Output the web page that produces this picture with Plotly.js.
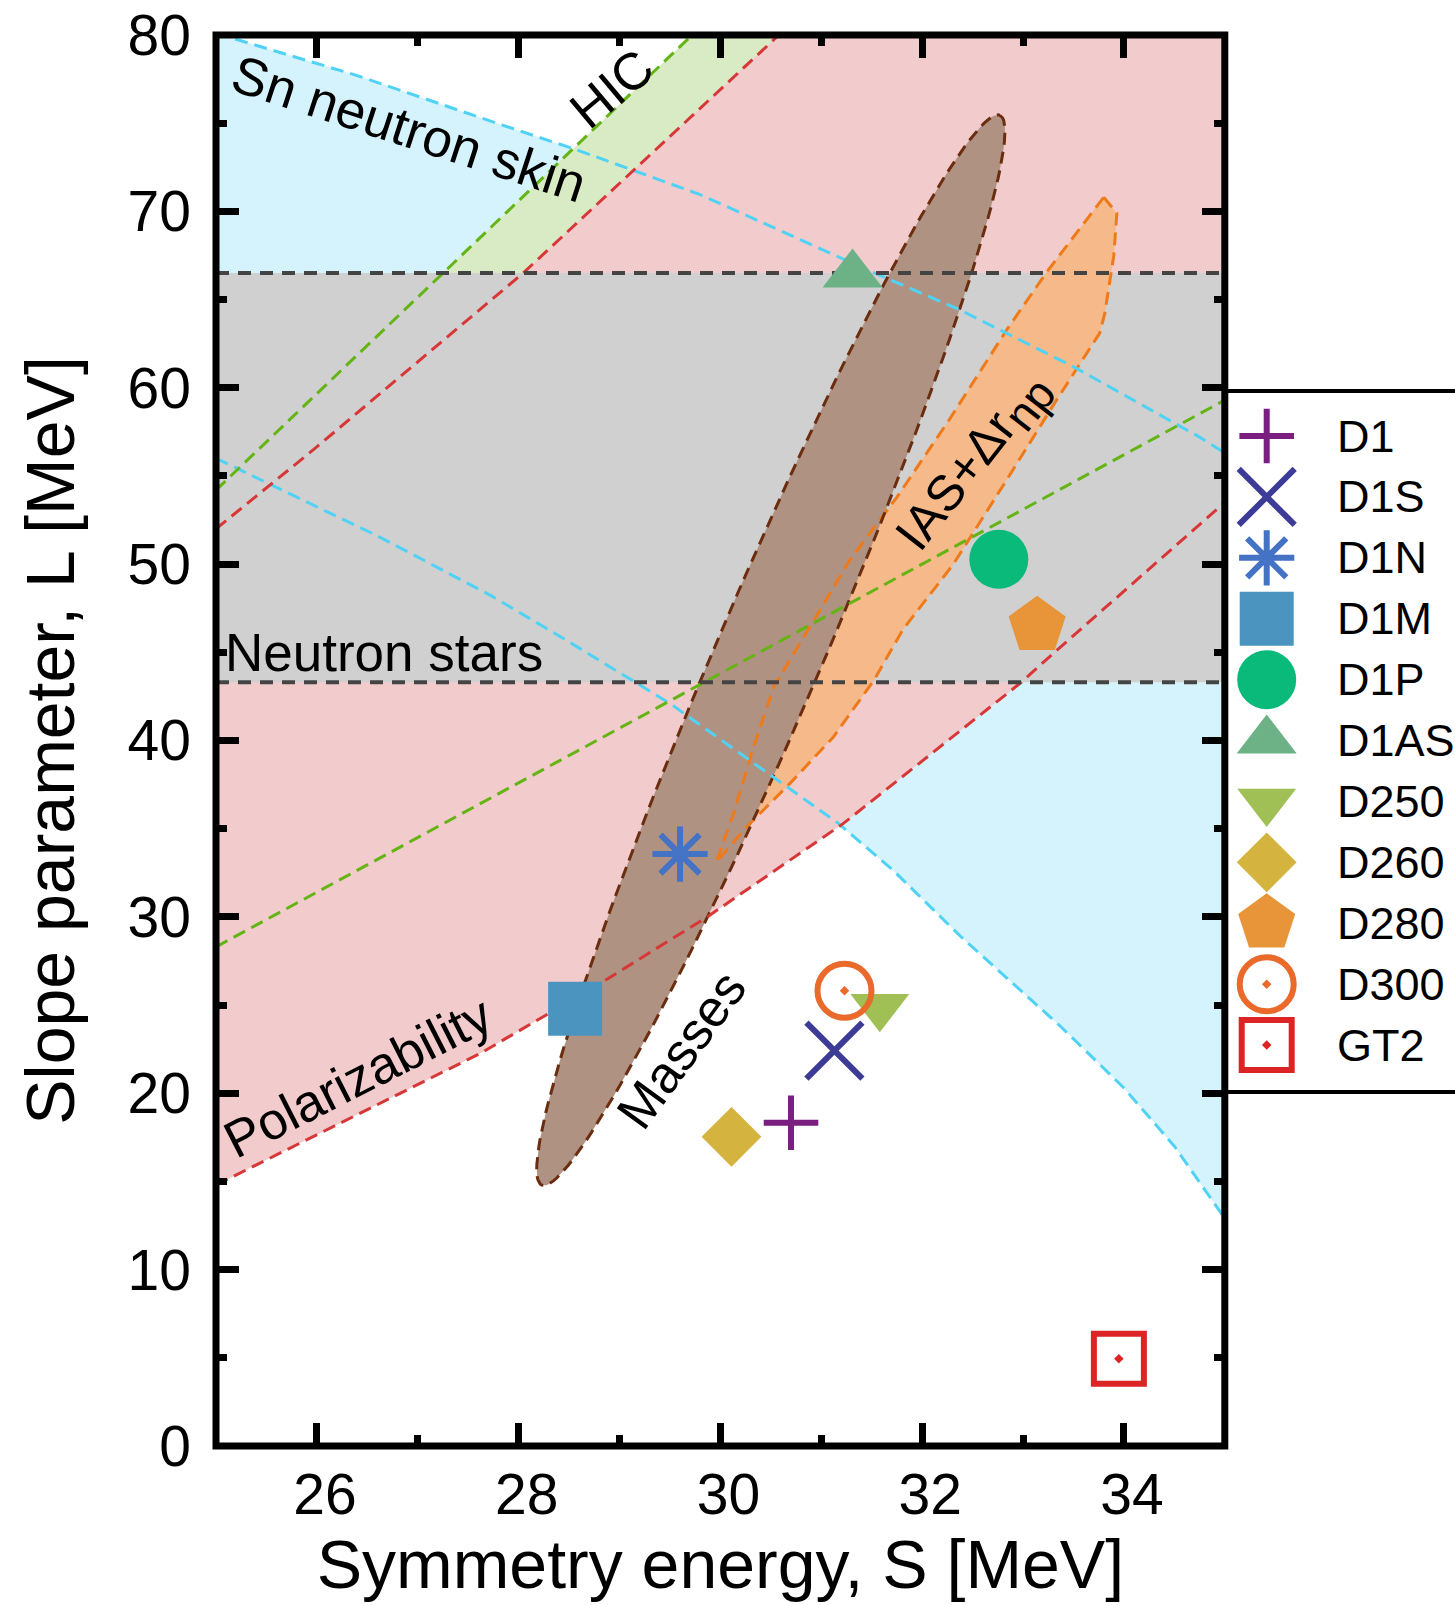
<!DOCTYPE html>
<html><head><meta charset="utf-8">
<script src="https://cdn.plot.ly/plotly-3.0.1.min.js"></script>
<style>html,body{margin:0;padding:0;background:#fff}#chart{width:1455px;height:1605px}</style>
</head><body><div id="chart"></div>
<script>
// ---------------- data ----------------
const names   = ['D1','D1S','D1N','D1M','D1P','D1AS','D250','D260','D280','D300','GT2'];
const symS    = [30.70, 31.13, 29.60, 28.56, 32.76, 31.31, 31.58, 30.11, 33.14, 31.23, 33.95];
const slopeL  = [18.33, 22.41, 33.56, 24.79, 50.27, 66.42, 24.90, 17.53, 46.51, 25.81, 4.95];
const symbols = ['cross-thin-open','x-thin-open','asterisk-open','square','circle','triangle-up',
                 'triangle-down','diamond','pentagon','circle-open-dot','square-open-dot'];
const colors  = ['#7a1e80','#3c3c96','#4472c4','#4a94bf','#09ba7a','#6db287',
                 '#a0bf55','#d4b33f','#e8953a','#e96a2b','#dc2424'];

// Sn neutron skin band (cyan dashed)
const snUpperS = [25, 26.4, 27.73, 28.57, 29.8, 31.45, 32.38, 33.53, 34.75, 35];
const snUpperL = [80.1, 77.7, 75.1, 73.5, 70.95, 66.7, 64.4, 61.1, 57.2, 56.3];
const snLowerS = [25, 26.6, 27.73, 28.41, 29.1, 29.5, 30.53, 31.17, 31.71, 32.38, 33.37, 34.0, 34.5, 35];
const snLowerL = [56.0, 51.6, 48.2, 45.9, 43.5, 42.1, 37.9, 35.3, 32.65, 28.9, 23.8, 20.3, 17.0, 12.9];
// HIC band (green dashed)
const hicUpperS = [25, 29.72];
const hicUpperL = [54.2, 80];
const hicLowerS = [25, 35];
const hicLowerL = [28.3, 59.3];
// Polarizability band (red dashed)
const polUpperS = [25, 25.96, 28.04, 30.06, 30.58];
const polUpperL = [52.0, 56.46, 66.48, 77.25, 80];
const polLowerS = [25, 27.62, 28.81, 29.87, 31.22, 32.97, 33.30, 35];
const polLowerL = [14.8, 22.26, 26.23, 30.0, 35.3, 43.24, 44.94, 53.5];
// Neutron stars band
const nsBand = [43.3, 66.5];
// Masses ellipse: centre, half major-axis vector, conjugate half minor-axis vector (S, L)
const massCentre = [30.50, 45.12];
const massMajor  = [2.27, 30.33];
const massMinor  = [0.483, -1.185];
// IAS + Δr_np region
const iasS = [33.80, 33.93, 33.90, 33.81, 33.76, 33.31, 32.84, 32.31, 31.81, 31.52, 31.12, 30.69, 30.26, 29.96,
              30.13, 30.33, 30.53, 30.92, 31.28, 31.75, 32.27, 32.84, 33.24, 33.80];
const iasL = [70.8, 69.9, 67.5, 64.2, 63.1, 59.1, 54.8, 50.0, 46.3, 43.4, 40.2, 37.57, 35.1, 33.1,
              35.87, 39.65, 43.05, 46.8, 50.2, 53.8, 58.2, 63.3, 66.6, 70.8];
const xRange = [25, 35];
const yRange = [0, 80];

// ---------------- build ----------------
const FONT = 'Liberation Sans, Arial, Helvetica, sans-serif';
const rev = a => a.slice().reverse();
function fillTrace(x, y, color) {
  return {x: x, y: y, type: 'scatter', mode: 'lines', fill: 'toself', fillcolor: color,
          line: {width: 0, color: color}, hoverinfo: 'skip', showlegend: false};
}
function dashTrace(x, y, color, width, dash) {
  return {x: x, y: y, type: 'scatter', mode: 'lines', line: {color: color, width: width, dash: dash},
          hoverinfo: 'skip', showlegend: false};
}
const [x0, x1] = xRange, yTop = yRange[1];

// ellipse outline from its parameters
const elS = [], elL = [];
for (let k = 0; k <= 180; k++) {
  const t = 2 * Math.PI * k / 180;
  elS.push(massCentre[0] + massMajor[0] * Math.cos(t) + massMinor[0] * Math.sin(t));
  elL.push(massCentre[1] + massMajor[1] * Math.cos(t) + massMinor[1] * Math.sin(t));
}

const traces = [
  fillTrace(snUpperS.concat(rev(snLowerS)), snUpperL.concat(rev(snLowerL)), '#d5f3fc'),
  fillTrace(hicLowerS.concat([x1]).concat(rev(hicUpperS)), hicLowerL.concat([yTop]).concat(rev(hicUpperL)), '#d8ebc5'),
  fillTrace(polLowerS.concat([x1]).concat(rev(polUpperS)), polLowerL.concat([yTop]).concat(rev(polUpperL)), '#f2cccd'),
  fillTrace([x0, x1, x1, x0], [nsBand[0], nsBand[0], nsBand[1], nsBand[1]], '#d0d0d0'),
  fillTrace(iasS, iasL, '#f5b98a'),
  fillTrace(elS, elL, '#b09283'),
  dashTrace(iasS, iasL, '#ef7a1a', 3, '13px,7px'),
  dashTrace(elS, elL, '#6b2d0f', 3, '12px,7px'),
  dashTrace(snUpperS, snUpperL, '#50d2f5', 3, '13px,7px'),
  dashTrace(snLowerS, snLowerL, '#50d2f5', 3, '13px,7px'),
  dashTrace(hicUpperS, hicUpperL, '#64b414', 3, '13px,7px'),
  dashTrace(hicLowerS, hicLowerL, '#64b414', 3, '13px,7px'),
  dashTrace(polUpperS, polUpperL, '#d73737', 3, '13px,7px'),
  dashTrace(polLowerS, polLowerL, '#d73737', 3, '13px,7px'),
  dashTrace([x0, x1], [nsBand[0], nsBand[0]], '#444444', 4, '13px,9px'),
  dashTrace([x0, x1], [nsBand[1], nsBand[1]], '#444444', 4, '13px,9px')
];

const sizes  = [39, 56, 46, 54, 59, 52, 51, 46, 60, 54, 50];
const lws    = symbols.map(s => (s.indexOf('open') >= 0 ? 6 : 0));
const markerStyle = {symbol: symbols, color: colors, size: sizes, opacity: 1,
                     line: {width: lws, color: colors}};
traces.push({
  x: symS, y: slopeL, type: 'scatter', mode: 'markers', text: names, hoverinfo: 'text',
  marker: markerStyle, cliponaxis: false, showlegend: false
});
// legend drawn as its own small subplot
traces.push({
  x: names.map(() => 0.182), y: names.map((n, i) => i), xaxis: 'x2', yaxis: 'y2',
  type: 'scatter', mode: 'markers', hoverinfo: 'skip', cliponaxis: false, showlegend: false,
  marker: markerStyle
});

const dom = (1224.8 - 216) / 1239;
const legTop = (1446 - 391) / 1411, legBot = (1446 - 1092) / 1411;

const annotations = [
  {text: 'Sn neutron skin', x: 26.91, y: 74.7, textangle: 18, size: 53},
  {text: 'HIC', x: 28.93, y: 76.98, textangle: -40, size: 52},
  {text: 'Polarizability', x: 26.41, y: 20.9, textangle: -27, size: 52},
  {text: 'Masses', x: 29.61, y: 22.45, textangle: -54, size: 52},
  {text: 'IAS+Δr<sub><span style="font-size:46px">np</span></sub>', x: 32.53, y: 55.71, textangle: -52, size: 50}
].map(a => ({text: a.text, x: a.x, y: a.y, xref: 'x', yref: 'y', textangle: a.textangle,
             showarrow: false, xanchor: 'center', yanchor: 'middle',
             font: {family: FONT, size: a.size, color: '#000'}}));
annotations.push({text: 'Neutron stars', x: 25.07, y: 44.98, xref: 'x', yref: 'y', showarrow: false,
                  xanchor: 'left', yanchor: 'middle', font: {family: FONT, size: 53, color: '#000'}});
names.forEach((n, i) => annotations.push({
  text: n, x: 0.48, y: i, xref: 'x2', yref: 'y2', showarrow: false, xanchor: 'left', yanchor: 'middle',
  font: {family: FONT, size: 45, color: '#000'}
}));

const layout = {
  width: 1455, height: 1605,
  margin: {l: 216, r: 0, t: 35, b: 159, pad: 0},
  paper_bgcolor: '#ffffff', plot_bgcolor: 'rgba(0,0,0,0)',
  showlegend: false,
  font: {family: FONT, color: '#000'},
  xaxis: {
    domain: [0, dom], range: xRange, tick0: 0, dtick: 2, ticks: 'inside', ticklen: 23, tickwidth: 7,
    tickcolor: '#000', mirror: 'ticks', showline: false, showgrid: false, zeroline: false,
    tickfont: {family: FONT, size: 57, color: '#000'}, ticklabelstandoff: 10, ticklabelshift: 8,
    minor: {dtick: 1, ticks: 'inside', ticklen: 11, tickwidth: 7, tickcolor: '#000', showgrid: false},
    title: {text: 'Symmetry energy, S [MeV]', font: {family: FONT, size: 68, color: '#000'}, standoff: 12},
    automargin: false, fixedrange: true
  },
  yaxis: {
    range: yRange, tick0: 0, dtick: 10, ticks: 'inside', ticklen: 23, tickwidth: 7,
    tickcolor: '#000', mirror: 'ticks', showline: false, showgrid: false, zeroline: false,
    tickfont: {family: FONT, size: 57, color: '#000'}, ticklabelstandoff: 24,
    minor: {dtick: 5, ticks: 'inside', ticklen: 11, tickwidth: 7, tickcolor: '#000', showgrid: false},
    title: {text: 'Slope parameter, L [MeV]', font: {family: FONT, size: 68, color: '#000'}, standoff: 30},
    automargin: false, fixedrange: true
  },
  xaxis2: {domain: [dom, 1], range: [0, 1], visible: false, anchor: 'y2', fixedrange: true},
  yaxis2: {domain: [legBot, legTop], range: [10.77, -0.739], visible: false, anchor: 'x2', fixedrange: true},
  shapes: [
    {type: 'rect', xref: 'x domain', yref: 'y domain', x0: 0, x1: 1, y0: 0, y1: 1,
     line: {color: '#000', width: 7}, layer: 'above'},
    {type: 'line', xref: 'paper', yref: 'paper', x0: dom, x1: 1, y0: legTop, y1: legTop,
     line: {color: '#000', width: 4}},
    {type: 'line', xref: 'paper', yref: 'paper', x0: dom, x1: 1, y0: legBot, y1: legBot,
     line: {color: '#000', width: 4}}
  ],
  annotations: annotations
};

Plotly.newPlot('chart', traces, layout, {staticPlot: true, displayModeBar: false});
</script>
</body></html>
